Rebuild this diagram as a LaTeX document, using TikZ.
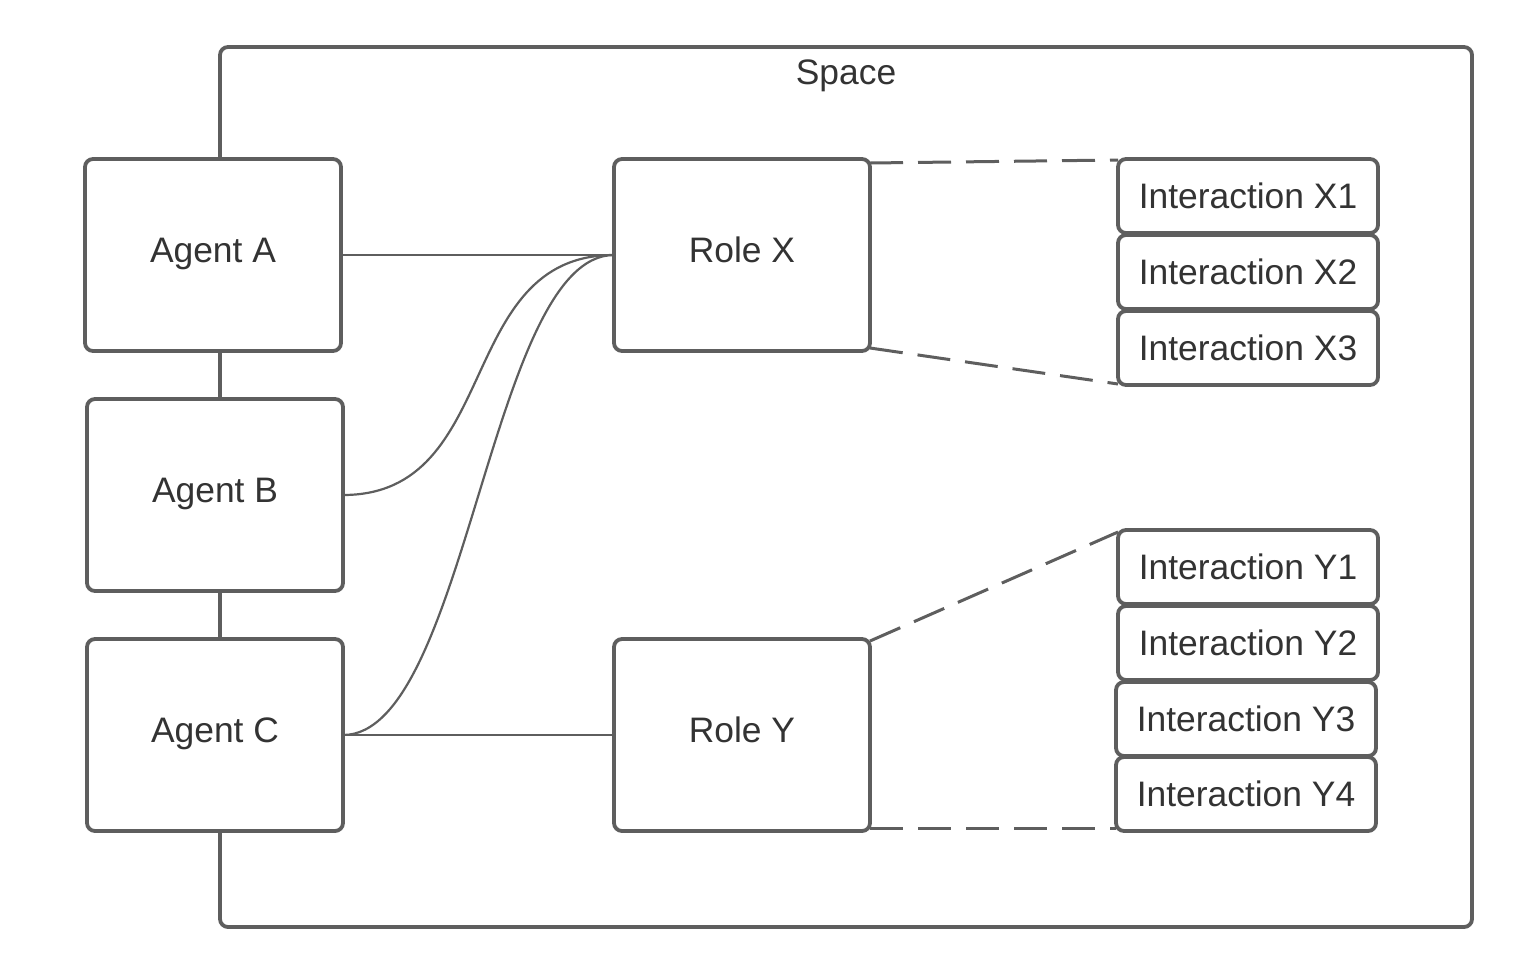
\documentclass[tikz,border=0pt]{standalone}
\usepackage{fontspec}
\setmainfont{Liberation Sans}
\usetikzlibrary{calc}
\definecolor{linec}{HTML}{5E5E5E}
\definecolor{textc}{HTML}{333333}
\begin{document}
\begin{tikzpicture}[x=0.5pt,y=-0.5pt,
  box/.style={draw=linec, line width=1.9pt, rounded corners=4pt, fill=white,
    text=textc, font=\fontsize{17.7}{21}\selectfont, inner sep=0pt, outer sep=0pt},
  bigbox/.style={box, minimum width=128pt, minimum height=96pt, text height=12.7pt, text depth=5pt},
  ibox/.style={box, minimum width=130pt, minimum height=37pt, text height=12.7pt, text depth=0.5pt},
  conn/.style={draw=linec, line width=1.1pt},
  dconn/.style={draw=linec, line width=1.5pt, dash pattern=on 16.5pt off 7.5pt},
  lbl/.style={text=textc, font=\fontsize{17.7}{21}\selectfont, inner sep=0pt}]
\useasboundingbox (0,0) rectangle (1520,970);
% space container
\draw[draw=linec, line width=1.9pt, rounded corners=4pt] (220,47) rectangle (1472,927);
\node[lbl] (space) at (846,76) {Space};
% agents
\node[bigbox] (a) at (213,255) {Agent A};
\node[bigbox] (b) at (215,495) {Agent B};
\node[bigbox] (c) at (215,735) {Agent C};
% roles
\node[bigbox] (rx) at (742,255) {Role X};
\node[bigbox] (ry) at (742,735) {Role Y};
% interactions
\node[ibox] (ix1) at (1248,196) {Interaction X1};
\node[ibox] (ix2) at (1248,272) {Interaction X2};
\node[ibox] (ix3) at (1248,348) {Interaction X3};
\node[ibox] (iy1) at (1248,567) {Interaction Y1};
\node[ibox] (iy2) at (1248,643) {Interaction Y2};
\node[ibox] (iy3) at (1246,719) {Interaction Y3};
\node[ibox] (iy4) at (1246,794) {Interaction Y4};
% connectors
\draw[conn] (a.east) -- (rx.west);
\draw[conn] (b.east) to[out=0,in=180,out distance=80pt,in distance=80pt] (rx.west);
\draw[conn] (c.east) to[out=0,in=180,out distance=62pt,in distance=62pt] (rx.west);
\draw[conn] (c.east) -- (ry.west);
% dashed links
\draw[dconn] ($(rx.north east)+(0,4)$) -- ($(ix1.north west)+(0,1)$);
\draw[dconn] ($(rx.south east)+(0,-3)$) -- ($(ix3.south west)+(0,-1)$);
\draw[dconn] ($(ry.north east)+(0,2)$) -- ($(iy1.north west)+(0,2)$);
\draw[dconn] ($(ry.south east)+(0,-3)$) -- ($(iy4.south west)+(0,-3)$);
\end{tikzpicture}
\end{document}
